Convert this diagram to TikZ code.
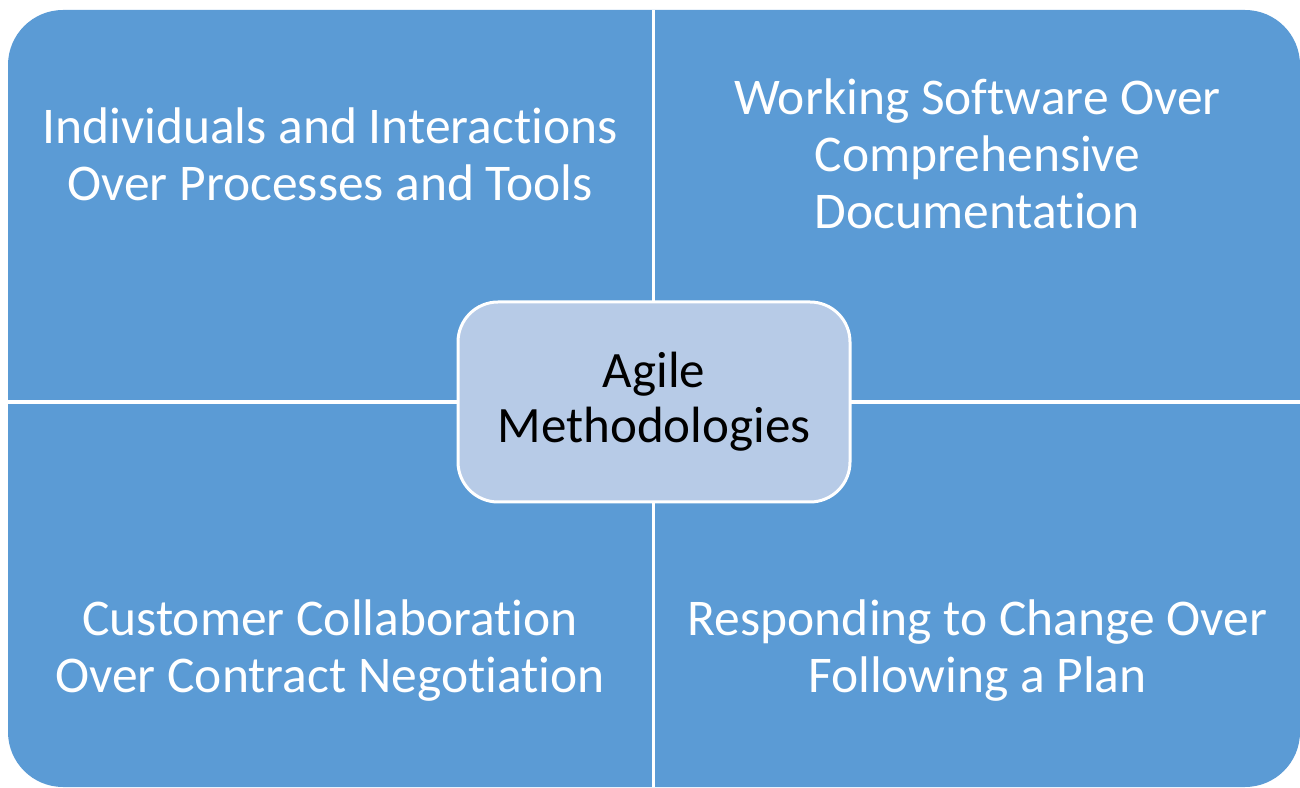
\documentclass[tikz,border=0pt]{standalone}
\usepackage{fontspec}
\setmainfont{Carlito}[Ligatures=NoCommon]
\usepackage{tikz}
\definecolor{quadblue}{RGB}{91,155,213}
\definecolor{hubblue}{RGB}{183,203,231}

\begin{document}
\begin{tikzpicture}[x=1pt,y=1pt]
\tikzstyle{quad}=[fill=quadblue]
\tikzstyle{gap}=[draw=white,line width=3.5pt]
\tikzstyle{quadtext}=[text=white,align=center,inner sep=0pt,
  font=\fontsize{51.5}{57}\selectfont]
\tikzstyle{hub}=[draw=white,line width=3pt,fill=hubblue,rounded corners=40pt,
  minimum width=392pt,minimum height=200pt,align=center,
  font=\fontsize{51}{55}\selectfont]
\useasboundingbox (0,0) rectangle (1300,787);
\fill[quad,rounded corners=55pt] (8,0) rectangle (1300,777);
\draw[gap] (653.5,0) -- (653.5,777);
\draw[gap,line width=4pt] (8,385) -- (1300,385);
\node[quadtext] (individuals) at (330,633)
  {Individuals and Interactions\\Over Processes and Tools};
\node[quadtext] (working) at (977.5,633)
  {Working Software Over\\Comprehensive\\Documentation};
\node[quadtext] (customer) at (330,136)
  {Customer Collaboration\\Over Contract Negotiation};
\node[quadtext] (responding) at (977.5,136)
  {Responding to Change Over\\Following a Plan};
\node[hub] (agile) at (654,385) {Agile\\Methodologies};
\end{tikzpicture}
\end{document}
